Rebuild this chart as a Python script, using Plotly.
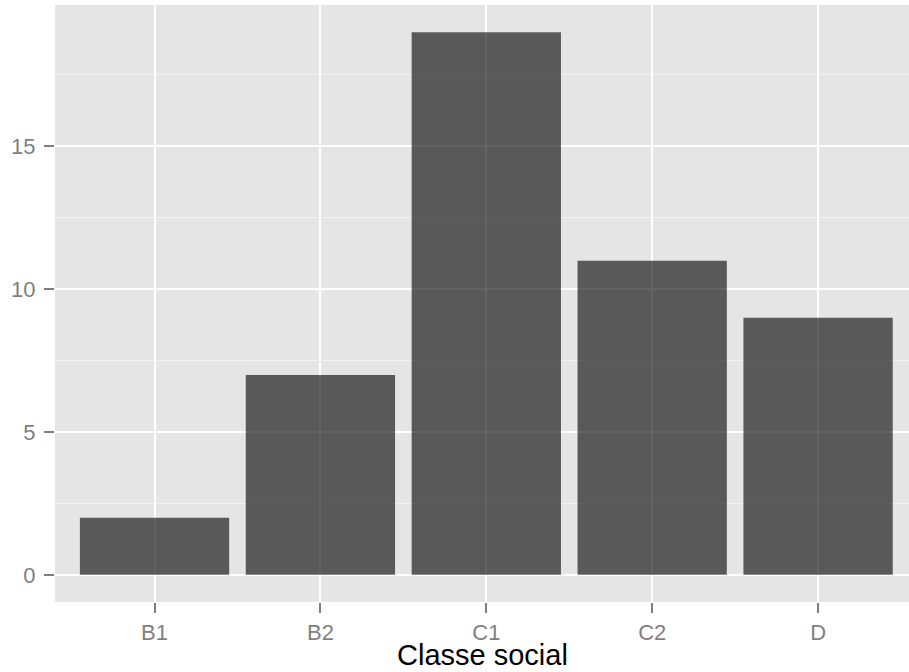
import plotly.graph_objects as go

categories = ["B1", "B2", "C1", "C2", "D"]
counts = [2, 7, 19, 11, 9]
y_tickvals = [0, 5, 10, 15]
y_minor = [2.5, 7.5, 12.5, 17.5]
x_title = "Classe social"

fig = go.Figure()
fig.add_trace(go.Bar(
    x=categories, y=counts, width=0.9,
    marker=dict(color="rgba(0,0,0,0.61)", line=dict(width=0)),
))

top, bottom = 5, 602
ph = bottom - top

fig.update_layout(
    width=909, height=672,
    margin=dict(l=55, r=0, t=top, b=672 - bottom),
    paper_bgcolor="white", plot_bgcolor="#E5E5E5",
    font=dict(family="Liberation Sans, Arial, sans-serif"),
    showlegend=False, bargap=0.1,
)
fig.add_annotation(
    text=x_title, xref="paper", yref="paper", x=0.5, y=(bottom - 655) / ph,
    xanchor="center", yanchor="middle", showarrow=False,
    font=dict(size=29, color="black"),
)
fig.update_xaxes(
    type="category", range=[-0.6, 4.548], automargin=False,
    showgrid=True, gridcolor="white", gridwidth=2,
    ticks="outside", ticklen=10, tickwidth=2, tickcolor="#7F7F7F",
    tickfont=dict(size=22, color="#7F7F7F"), ticklabelstandoff=1,
    zeroline=False, showline=False,
)
fig.update_yaxes(
    range=[-0.95, 19.95], tickvals=y_tickvals, automargin=False,
    showgrid=True, gridcolor="white", gridwidth=2,
    minor=dict(tickvals=y_minor, showgrid=True, gridcolor="#F2F2F2", gridwidth=1, ticks=""),
    ticks="outside", ticklen=10, tickwidth=2, tickcolor="#7F7F7F",
    tickfont=dict(size=22, color="#7F7F7F"), ticklabelstandoff=4,
    zeroline=False, showline=False,
)
fig.write_html("out.html", config={"displayModeBar": False},
               post_script="document.body.style.margin='0';")
